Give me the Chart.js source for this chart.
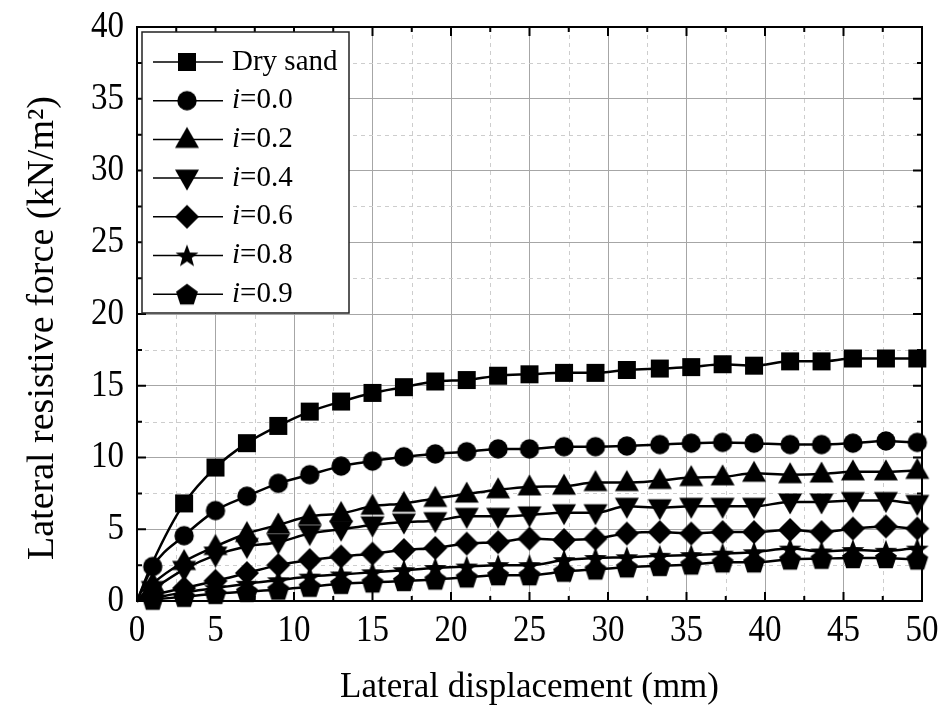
<!DOCTYPE html>
<html>
<head>
<meta charset="utf-8">
<script src="https://cdn.jsdelivr.net/npm/chart.js@4"></script>
<style>
  html, body { margin: 0; padding: 0; background: #fff; }
  #wrap { width: 946px; height: 709px; }
</style>
</head>
<body>
<div id="wrap"><canvas id="myChart" width="946" height="709"></canvas></div>
<script>
// Marker positions along the displacement axis (mm)
const displacement = [1, 3, 5, 7, 9, 11, 13, 15, 17, 19, 21, 23, 25, 27.2, 29.2, 31.2, 33.3, 35.3, 37.3, 39.3, 41.6, 43.6, 45.6, 47.7, 49.7];

// Lateral resistive force (kN/m2) read at each marker
const drySand = [2.7, 6.8, 9.3, 11.0, 12.2, 13.2, 13.9, 14.5, 14.9, 15.3, 15.4, 15.7, 15.8, 15.9, 15.9, 16.1, 16.2, 16.3, 16.5, 16.4, 16.7, 16.7, 16.9, 16.9, 16.9];
const i00 = [2.4, 4.55, 6.3, 7.3, 8.2, 8.8, 9.4, 9.75, 10.05, 10.25, 10.4, 10.6, 10.6, 10.75, 10.75, 10.8, 10.9, 11.0, 11.05, 11.0, 10.9, 10.9, 11.0, 11.15, 11.05];
const i02 = [1.2, 2.75, 3.8, 4.7, 5.3, 5.9, 6.1, 6.6, 6.8, 7.15, 7.45, 7.75, 7.95, 8.0, 8.25, 8.25, 8.4, 8.6, 8.65, 8.9, 8.8, 8.85, 9.0, 9.0, 9.1];
const i04 = [0.8, 2.2, 3.2, 3.8, 4.1, 4.7, 5.0, 5.3, 5.5, 5.6, 5.9, 5.9, 6.0, 6.15, 6.15, 6.6, 6.5, 6.6, 6.6, 6.6, 6.9, 6.9, 7.0, 7.0, 6.8];
const i06 = [0.4, 0.9, 1.4, 1.95, 2.5, 2.85, 3.1, 3.3, 3.55, 3.7, 4.0, 4.1, 4.35, 4.25, 4.35, 4.7, 4.8, 4.7, 4.8, 4.8, 4.95, 4.8, 5.05, 5.2, 5.05];
const i08 = [0.2, 0.6, 0.9, 1.2, 1.45, 1.7, 1.85, 2.0, 2.15, 2.3, 2.4, 2.5, 2.5, 2.85, 3.0, 3.05, 3.15, 3.2, 3.3, 3.4, 3.65, 3.45, 3.55, 3.5, 3.65];
const i09 = [0.1, 0.3, 0.5, 0.65, 0.8, 1.0, 1.2, 1.3, 1.4, 1.5, 1.65, 1.8, 1.8, 2.05, 2.2, 2.35, 2.45, 2.55, 2.7, 2.7, 2.9, 2.95, 3.0, 3.0, 2.9];

const seriesValues = [drySand, i00, i02, i04, i06, i08, i09];
const seriesNames = ["Dry sand", "0.0", "0.2", "0.4", "0.6", "0.8", "0.9"];
const seriesShapes = ["square", "circle", "triangle", "triangleDown", "diamond", "star", "pentagon"];

const xTicks = [0, 5, 10, 15, 20, 25, 30, 35, 40, 45, 50];
const yTicks = [0, 5, 10, 15, 20, 25, 30, 35, 40];

const xTitle = "Lateral displacement (mm)";
const yTitle = "Lateral resistive force (kN/m²)";

const FONT = "'Liberation Serif', 'Times New Roman', serif";

// Build a filled black marker on a small canvas
let makeMarker = (shape) => {
    const c = document.createElement("canvas");
    c.width = 30;
    c.height = 30;
    const g = c.getContext("2d");
    g.translate(15, 15);
    g.fillStyle = "#000";
    g.beginPath();
    if (shape === "square") {
        g.rect(-9, -9, 18, 18);
    } else if (shape === "circle") {
        g.arc(0, 0, 9.7, 0, Math.PI * 2);
    } else if (shape === "triangle") {
        g.moveTo(0, -12.5); g.lineTo(12, 8.5); g.lineTo(-12, 8.5);
    } else if (shape === "triangleDown") {
        g.moveTo(0, 12.5); g.lineTo(12, -8.5); g.lineTo(-12, -8.5);
    } else if (shape === "diamond") {
        g.moveTo(0, -12); g.lineTo(12, 0); g.lineTo(0, 12); g.lineTo(-12, 0);
    } else if (shape === "star") {
        for (let k = 0; k < 10; k++) {
            let r = k % 2 === 0 ? 12 : 5;
            let a = -Math.PI / 2 + k * Math.PI / 5;
            g.lineTo(Math.cos(a) * r, Math.sin(a) * r + 1);
        }
    } else if (shape === "pentagon") {
        for (let k = 0; k < 5; k++) {
            let a = -Math.PI / 2 + k * 2 * Math.PI / 5;
            g.lineTo(Math.cos(a) * 11.5, Math.sin(a) * 11.5 + 1);
        }
    }
    g.closePath();
    g.fill();
    return c;
};

const markers = seriesShapes.map(makeMarker);

// Line starts at origin and runs to the right edge; markers only on measured points
let buildData = (values) => {
    let pts = [{ x: 0, y: 0 }];
    displacement.forEach((x, k) => pts.push({ x: x, y: values[k] }));
    pts.push({ x: 50, y: values[values.length - 1] });
    return pts;
};

const datasets = seriesValues.map((values, k) => ({
    label: seriesNames[k],
    data: buildData(values),
    borderColor: "#000",
    borderWidth: 2.5,
    backgroundColor: "#000",
    pointStyle: markers[k],
    pointRadius: (c) => {
        if (c.dataIndex === 0 || c.dataIndex === values.length + 1) return 0;
        // dry sand marker at 1 mm is hidden under the i=0.0 circle
        if (k === 0 && c.dataIndex === 1) return 0;
        return 9;
    },
    cubicInterpolationMode: "monotone",
    order: seriesValues.length - k,
    clip: false
}));

// Text with a slight vertical stretch, like the reference tick labels
let drawTallText = (ctx, text, x, y, align) => {
    ctx.save();
    ctx.translate(x, y);
    ctx.scale(1, 1.15);
    ctx.textAlign = align;
    ctx.textBaseline = "middle";
    ctx.fillText(text, 0, 0);
    ctx.restore();
};

// Minor dashed grid, inward ticks, frame, labels and legend
const framePlugin = {
    id: "frame",
    beforeDatasetsDraw(chart) {
        const { ctx, chartArea: a, scales: { x, y } } = chart;
        ctx.save();
        ctx.strokeStyle = "#cdcdcd";
        ctx.lineWidth = 1;
        ctx.setLineDash([4, 4]);
        for (let v = 2.5; v < 50; v += 5) {
            let px = Math.round(x.getPixelForValue(v)) + 0.5;
            ctx.beginPath(); ctx.moveTo(px, a.top); ctx.lineTo(px, a.bottom); ctx.stroke();
        }
        for (let v = 2.5; v < 40; v += 5) {
            let py = Math.round(y.getPixelForValue(v)) + 0.5;
            ctx.beginPath(); ctx.moveTo(a.left, py); ctx.lineTo(a.right, py); ctx.stroke();
        }
        ctx.restore();
    },
    afterDraw(chart) {
        const { ctx, chartArea: a, scales: { x, y } } = chart;
        ctx.save();
        ctx.strokeStyle = "#000";
        ctx.lineWidth = 2;
        // inward ticks on all four sides
        for (let v = 0; v <= 50; v += 2.5) {
            let len = v % 5 === 0 ? 9 : 5;
            let px = x.getPixelForValue(v);
            ctx.beginPath();
            ctx.moveTo(px, a.bottom); ctx.lineTo(px, a.bottom - len);
            ctx.moveTo(px, a.top); ctx.lineTo(px, a.top + len);
            ctx.stroke();
        }
        for (let v = 0; v <= 40; v += 2.5) {
            let len = v % 5 === 0 ? 9 : 5;
            let py = y.getPixelForValue(v);
            ctx.beginPath();
            ctx.moveTo(a.left, py); ctx.lineTo(a.left + len, py);
            ctx.moveTo(a.right, py); ctx.lineTo(a.right - len, py);
            ctx.stroke();
        }
        ctx.strokeRect(a.left, a.top, a.right - a.left, a.bottom - a.top);

        // tick labels
        ctx.fillStyle = "#000";
        ctx.font = "33px " + FONT;
        xTicks.forEach(v => drawTallText(ctx, String(v), x.getPixelForValue(v), a.bottom + 30, "center"));
        yTicks.forEach(v => drawTallText(ctx, String(v), a.left - 13, y.getPixelForValue(v), "right"));

        // axis titles
        ctx.font = "35px " + FONT;
        ctx.textAlign = "center";
        ctx.textBaseline = "middle";
        ctx.fillText(xTitle, (a.left + a.right) / 2, 688);
        ctx.save();
        ctx.translate(43, 328);
        ctx.rotate(-Math.PI / 2);
        ctx.font = "38px " + FONT;
        ctx.fillText(yTitle, 0, 0);
        ctx.restore();

        // legend box
        const bx = a.left + 5, by = a.top + 5, bw = 207, bh = 281;
        ctx.fillStyle = "#fff";
        ctx.fillRect(bx, by, bw, bh);
        ctx.lineWidth = 1.5;
        ctx.strokeStyle = "#222";
        ctx.strokeRect(bx, by, bw, bh);

        ctx.textAlign = "left";
        ctx.textBaseline = "middle";
        chart.data.datasets.forEach((ds, k) => {
            let ry = by + 30 + k * 38.7;
            ctx.strokeStyle = "#000";
            ctx.lineWidth = 1.5;
            ctx.beginPath();
            ctx.moveTo(a.left + 16, ry); ctx.lineTo(a.left + 86, ry);
            ctx.stroke();
            ctx.drawImage(markers[k], a.left + 50 - 15, ry - 15);
            ctx.fillStyle = "#000";
            let tx = a.left + 95;
            if (k === 0) {
                ctx.font = "29px " + FONT;
                ctx.fillText(ds.label, tx, ry);
            } else {
                ctx.font = "italic 29px " + FONT;
                ctx.fillText("i", tx, ry);
                tx += ctx.measureText("i").width;
                ctx.font = "29px " + FONT;
                ctx.fillText("=" + ds.label, tx, ry);
            }
        });
        ctx.restore();
    }
};

const ctx = document.getElementById("myChart").getContext("2d");
let myChart = new Chart(ctx, {
    type: "line",
    data: { datasets: datasets },
    options: {
        responsive: false,
        animation: false,
        events: [],
        layout: { padding: { left: 0, top: 27, right: 24, bottom: 0 } },
        plugins: { legend: { display: false }, tooltip: { enabled: false } },
        scales: {
            x: {
                type: "linear",
                min: 0,
                max: 50,
                afterFit: (s) => { s.height = 108; },
                afterBuildTicks: (s) => { s.ticks = xTicks.map(v => ({ value: v })); },
                border: { display: false },
                grid: { color: "#a6a6a6", lineWidth: 1, drawTicks: false },
                ticks: { display: false }
            },
            y: {
                type: "linear",
                min: 0,
                max: 40,
                afterFit: (s) => { s.width = 137; },
                afterBuildTicks: (s) => { s.ticks = yTicks.map(v => ({ value: v })); },
                border: { display: false },
                grid: { color: "#a6a6a6", lineWidth: 1, drawTicks: false },
                ticks: { display: false }
            }
        }
    },
    plugins: [framePlugin]
});
</script>
</body>
</html>
